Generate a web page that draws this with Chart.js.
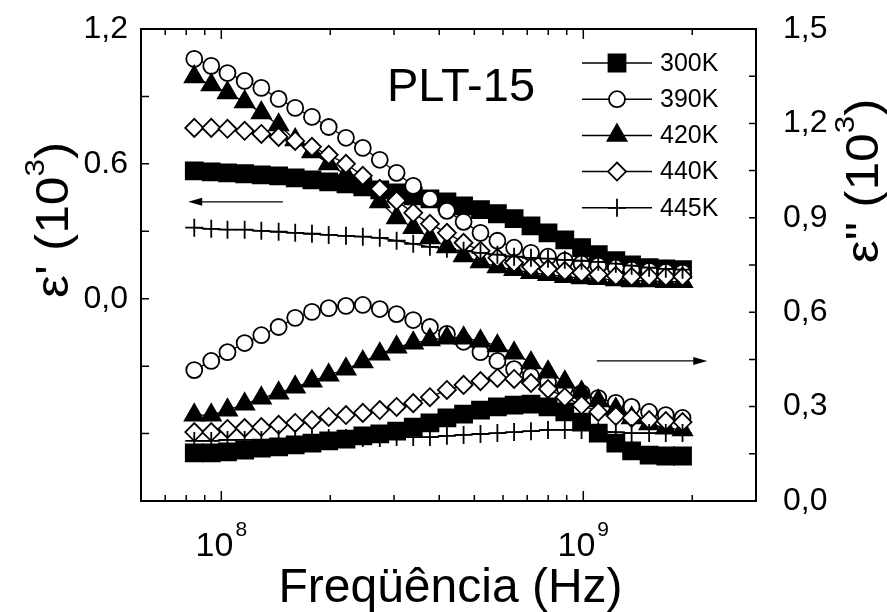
<!DOCTYPE html>
<html>
<head>
<meta charset="utf-8">
<title>PLT-15</title>
<script src="https://cdn.jsdelivr.net/npm/chart.js@4.4.0/dist/chart.umd.min.js"></script>
<style>
  body { margin: 0; background: #fff; }
  canvas { display: block; }
</style>
</head>
<body>
<canvas id="chart" width="887" height="612"></canvas>
<script>
// frequency points (Hz)
const freq = [8.42e7, 9.38e7, 1.04e8, 1.16e8, 1.29e8, 1.44e8, 1.60e8, 1.78e8, 1.98e8, 2.21e8,
  2.46e8, 2.74e8, 3.05e8, 3.39e8, 3.77e8, 4.20e8, 4.67e8, 5.20e8, 5.79e8, 6.44e8,
  7.17e8, 7.99e8, 8.89e8, 9.89e8, 1.10e9, 1.23e9, 1.36e9, 1.52e9, 1.69e9, 1.88e9];

// real part eps' (10^3), left axis
const eps1_300 = [0.569,0.564,0.560,0.556,0.551,0.547,0.538,0.529,0.520,0.511,0.498,0.484,0.471,0.458,0.444,0.431,0.413,0.396,0.378,0.356,0.324,0.293,0.262,0.227,0.196,0.169,0.151,0.138,0.133,0.129];
const eps1_390 = [1.067,1.036,1.004,0.969,0.938,0.889,0.849,0.809,0.764,0.716,0.671,0.618,0.560,0.502,0.444,0.391,0.342,0.293,0.258,0.227,0.204,0.187,0.169,0.156,0.147,0.138,0.129,0.124,0.120,0.116];
const eps1_420 = [0.987,0.951,0.916,0.876,0.827,0.773,0.707,0.653,0.600,0.551,0.498,0.431,0.360,0.316,0.271,0.231,0.191,0.164,0.142,0.129,0.116,0.107,0.098,0.093,0.089,0.084,0.080,0.080,0.076,0.076];
const eps1_440 = [0.760,0.760,0.756,0.747,0.733,0.720,0.702,0.676,0.640,0.600,0.547,0.489,0.436,0.382,0.333,0.293,0.249,0.213,0.182,0.160,0.142,0.133,0.124,0.116,0.107,0.102,0.098,0.098,0.098,0.098];
const eps1_445 = [0.316,0.311,0.307,0.307,0.302,0.298,0.293,0.289,0.284,0.280,0.276,0.271,0.258,0.244,0.231,0.222,0.213,0.204,0.196,0.187,0.182,0.178,0.173,0.169,0.164,0.156,0.147,0.138,0.133,0.129];

// imaginary part eps'' (10^3), right axis
const eps2_300 = [0.153,0.153,0.156,0.162,0.168,0.172,0.178,0.184,0.191,0.197,0.207,0.213,0.222,0.235,0.248,0.264,0.276,0.289,0.299,0.305,0.308,0.299,0.283,0.251,0.216,0.184,0.159,0.146,0.143,0.143];
const eps2_390 = [0.416,0.445,0.473,0.502,0.527,0.553,0.582,0.601,0.613,0.620,0.623,0.610,0.594,0.575,0.553,0.531,0.506,0.473,0.445,0.419,0.397,0.378,0.359,0.343,0.327,0.312,0.299,0.283,0.273,0.264];
const eps2_420 = [0.273,0.273,0.289,0.308,0.327,0.343,0.362,0.381,0.400,0.419,0.442,0.467,0.489,0.502,0.512,0.518,0.518,0.508,0.493,0.470,0.439,0.410,0.378,0.346,0.318,0.292,0.264,0.245,0.232,0.226];
const eps2_440 = [0.219,0.219,0.229,0.232,0.235,0.242,0.248,0.257,0.267,0.273,0.280,0.289,0.299,0.311,0.330,0.353,0.369,0.381,0.391,0.388,0.375,0.356,0.330,0.305,0.283,0.270,0.264,0.257,0.254,0.251];
const eps2_445 = [0.191,0.191,0.194,0.194,0.194,0.197,0.197,0.197,0.200,0.200,0.200,0.200,0.203,0.203,0.203,0.207,0.210,0.213,0.216,0.219,0.222,0.226,0.226,0.226,0.222,0.219,0.216,0.216,0.216,0.216];

const temps = ["300K", "390K", "420K", "440K", "445K"];

// axis ticks and labels
const xTicks = [7e7, 8e7, 9e7, 1e8, 2e8, 3e8, 4e8, 5e8, 6e8, 7e8, 8e8, 9e8, 1e9, 2e9];
const xLabelValues = [1e8, 1e9];
const xLabelExp = ["8", "9"];
const leftLabelValues = [0, 0.6, 1.2];
const leftLabels = ["0,0", "0.6", "1,2"];
const rightLabelValues = [0, 0.3, 0.6, 0.9, 1.2, 1.5];
const rightLabels = ["0,0", "0,3", "0,6", "0,9", "1,2", "1,5"];

const FONT = "'Liberation Sans', Arial, sans-serif";

const markers = [
  { style: "rect", radius: 12, fill: "#000" },
  { style: "circle", radius: 8, fill: "#fff" },
  { style: "triangle", radius: 11, fill: "#000" },
  { style: "rectRot", radius: 9, fill: "#fff" },
  { style: "cross", radius: 9, fill: "#fff" }
];

function makeSet(values, idx, axis) {
  const m = markers[idx];
  return {
    label: temps[idx],
    data: freq.map((f, i) => ({ x: f, y: values[i] })),
    yAxisID: axis,
    showLine: true,
    borderColor: "#000",
    borderWidth: 1.3,
    pointStyle: m.style,
    pointRadius: m.radius,
    pointHoverRadius: m.radius,
    pointBackgroundColor: m.fill,
    pointBorderColor: "#000",
    pointBorderWidth: 1.8,
    order: 5 - idx
  };
}

const eps1 = [eps1_300, eps1_390, eps1_420, eps1_440, eps1_445];
const eps2 = [eps2_300, eps2_390, eps2_420, eps2_440, eps2_445];
const datasets = [];
eps1.forEach((v, i) => datasets.push(makeSet(v, i, "y")));
eps2.forEach((v, i) => datasets.push(makeSet(v, i, "y2")));

function drawMarker(ctx, idx, x, y) {
  const m = markers[idx];
  ctx.save();
  ctx.fillStyle = m.fill;
  ctx.strokeStyle = "#000";
  ctx.lineWidth = 1.8;
  if (Chart.helpers && Chart.helpers.drawPoint) {
    Chart.helpers.drawPoint(ctx, { pointStyle: m.style, radius: m.radius, rotation: 0, borderWidth: 1.8 }, x, y);
  }
  ctx.restore();
}

function arrow(ctx, x1, x2, y) {
  const dir = Math.sign(x2 - x1);
  ctx.beginPath();
  ctx.moveTo(x1, y);
  ctx.lineTo(x2 - dir * 10, y);
  ctx.stroke();
  ctx.beginPath();
  ctx.moveTo(x2, y);
  ctx.lineTo(x2 - dir * 14, y - 4);
  ctx.lineTo(x2 - dir * 14, y + 4);
  ctx.closePath();
  ctx.fill();
}

const decorations = {
  id: "decorations",
  afterDraw(chart) {
    const { ctx, chartArea: a, scales } = chart;
    const sx = scales.x, sy = scales.y, sy2 = scales.y2;
    ctx.save();
    ctx.strokeStyle = "#000";
    ctx.fillStyle = "#000";

    // frame
    ctx.lineWidth = 2;
    ctx.strokeRect(a.left, a.top, a.right - a.left, a.bottom - a.top);

    // inward ticks
    ctx.lineWidth = 1.5;
    ctx.beginPath();
    xTicks.forEach(v => {
      const px = sx.getPixelForValue(v);
      const len = xLabelValues.includes(v) ? 10 : 6;
      ctx.moveTo(px, a.bottom); ctx.lineTo(px, a.bottom - len);
      ctx.moveTo(px, a.top); ctx.lineTo(px, a.top + len);
    });
    sy.ticks.forEach(t => {
      const py = sy.getPixelForValue(t.value);
      ctx.moveTo(a.left, py); ctx.lineTo(a.left + 8, py);
    });
    sy2.ticks.forEach(t => {
      const py = sy2.getPixelForValue(t.value);
      ctx.moveTo(a.right, py); ctx.lineTo(a.right - 7, py);
    });
    ctx.stroke();

    // x tick labels with exponent
    ctx.textBaseline = "alphabetic";
    xLabelValues.forEach((v, i) => {
      const px = sx.getPixelForValue(v);
      ctx.font = "34px " + FONT;
      const w1 = ctx.measureText("10").width;
      ctx.font = "21px " + FONT;
      const w2 = ctx.measureText(xLabelExp[i]).width;
      const start = px - (w1 + w2 + 2) / 2;
      ctx.font = "34px " + FONT;
      ctx.textAlign = "left";
      ctx.fillText("10", start, 556);
      ctx.font = "21px " + FONT;
      ctx.fillText(xLabelExp[i], start + w1 + 2, 536);
    });

    // x title
    ctx.font = "48px " + FONT;
    ctx.textAlign = "center";
    ctx.fillText("Freqüência (Hz)", (a.left + a.right) / 2 + 2, 602);

    // y titles (rotated, slightly stretched along the text)
    function yTitle(x, y, head) {
      ctx.save();
      ctx.translate(x, y);
      ctx.rotate(-Math.PI / 2);
      ctx.scale(1.12, 1);
      ctx.font = "46px " + FONT;
      const t1 = head + " (10", t3 = ")";
      const w1 = ctx.measureText(t1).width, w3 = ctx.measureText(t3).width;
      ctx.font = "28px " + FONT;
      const w2 = ctx.measureText("3").width;
      let s = -(w1 + w2 + w3) / 2;
      ctx.textAlign = "left";
      ctx.font = "46px " + FONT;
      ctx.fillText(t1, s, 0);
      ctx.font = "28px " + FONT;
      ctx.fillText("3", s + w1, -24);
      ctx.font = "46px " + FONT;
      ctx.fillText(t3, s + w1 + w2, 0);
      ctx.restore();
    }
    yTitle(68, 220, "\u03B5'");
    yTitle(878, 181, "\u03B5\"");

    // sample label
    ctx.font = "47px " + FONT;
    ctx.textAlign = "center";
    ctx.fillText("PLT-15", 461, 101);

    // legend
    ctx.font = "25px " + FONT;
    ctx.textAlign = "left";
    ctx.textBaseline = "middle";
    temps.forEach((t, i) => {
      const ly = 63 + 36.2 * i;
      ctx.lineWidth = 1.5;
      ctx.beginPath();
      ctx.moveTo(582, ly); ctx.lineTo(652, ly);
      ctx.stroke();
      drawMarker(ctx, i, 617, ly);
      ctx.fillStyle = "#000";
      ctx.fillText(t, 660, ly + 1);
    });

    // arrows pointing to the axes
    ctx.lineWidth = 1.3;
    arrow(ctx, sx.getPixelForValue(1.48e8), sx.getPixelForValue(8.1e7), sy.getPixelForValue(0.431));
    arrow(ctx, sx.getPixelForValue(1.09e9), sx.getPixelForValue(2.2e9), sy2.getPixelForValue(0.445));

    ctx.restore();
  }
};

function pickLabel(value, values, labels) {
  const i = values.findIndex(v => Math.abs(v - value) < 1e-6);
  return i >= 0 ? labels[i] : "";
}

function noPad(s) {
  s.paddingTop = 0;
  s.paddingBottom = 0;
}

new Chart(document.getElementById("chart"), {
  type: "scatter",
  data: { datasets: datasets },
  options: {
    responsive: false,
    animation: false,
    events: [],
    layout: { padding: { top: 29, left: 0, right: 0, bottom: 0 } },
    plugins: {
      legend: { display: false },
      tooltip: { enabled: false }
    },
    scales: {
      x: {
        type: "logarithmic",
        position: "bottom",
        min: 6e7,
        max: 3e9,
        grid: { display: false, drawTicks: false },
        border: { display: false },
        ticks: { display: false },
        afterFit: s => { s.height = 111; s.paddingLeft = 0; s.paddingRight = 0; }
      },
      y: {
        type: "linear",
        position: "left",
        min: -0.9,
        max: 1.2,
        grid: { display: false, drawTicks: false },
        border: { display: false },
        ticks: {
          stepSize: 0.3,
          padding: 13,
          color: "#000",
          font: { family: FONT, size: 32 },
          callback: v => pickLabel(v, leftLabelValues, leftLabels)
        },
        afterFit: s => { s.width = 141; noPad(s); }
      },
      y2: {
        type: "linear",
        position: "right",
        min: 0,
        max: 1.5,
        grid: { display: false, drawTicks: false },
        border: { display: false },
        ticks: {
          stepSize: 0.15,
          padding: 27,
          color: "#000",
          font: { family: FONT, size: 32 },
          callback: v => pickLabel(v, rightLabelValues, rightLabels)
        },
        afterFit: s => { s.width = 131; noPad(s); }
      }
    }
  },
  plugins: [decorations]
});
</script>
</body>
</html>
